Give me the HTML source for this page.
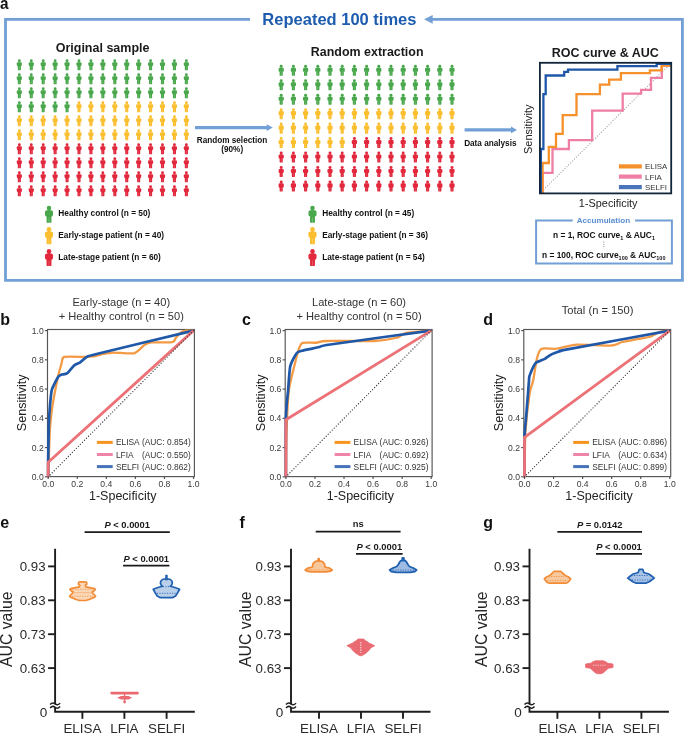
<!DOCTYPE html>
<html><head><meta charset="utf-8"><title>Figure</title>
<style>
html,body{margin:0;padding:0;background:#fff;}
body{width:685px;height:733px;overflow:hidden;}
svg{display:block;font-family:"Liberation Sans", sans-serif;will-change:transform;}
</style></head><body>
<svg width="685" height="733" viewBox="0 0 685 733">
<defs>
<g id="person">
<circle cx="0" cy="1.45" r="1.45"/>
<rect x="-0.8" y="2.4" width="1.6" height="0.8"/>
<rect x="-2.55" y="2.9" width="5.1" height="4.0" rx="1.15"/>
<rect x="-1.55" y="6.3" width="3.1" height="4.55" rx="0.45"/>
<rect x="-0.18" y="7.4" width="0.36" height="3.4" fill="#fff" opacity="0.35"/>
</g>
</defs>
<rect width="685" height="733" fill="#fff"/>
<text x="0" y="9" font-size="17" font-weight="700" fill="#111" transform="scale(0.9,1)">a</text>
<path d="M250,19.3 H5.5 V280.4 H682.4 V19.3 H432" fill="none" stroke="#729fd6" stroke-width="2.8"/>
<path d="M424,19.3 L432.7,14.9 L432.7,23.7 Z" fill="#729fd6"/>
<text x="339.4" y="24.5" font-size="16.5" font-weight="700" fill="#1d5cae" text-anchor="middle" >Repeated 100 times</text>
<text x="102.6" y="51.9" font-size="12.5" font-weight="700" fill="#1a1a1a" text-anchor="middle" >Original sample</text>
<text x="367.2" y="56.3" font-size="12.45" font-weight="700" fill="#1a1a1a" text-anchor="middle" >Random extraction</text>
<text x="605.3" y="57.2" font-size="12.5" font-weight="700" fill="#1a1a1a" text-anchor="middle" >ROC curve &amp; AUC</text>
<use href="#person" transform="translate(19.35,59.30) scale(1.0)" fill="#4aa84c"/>
<use href="#person" transform="translate(31.28,59.30) scale(1.0)" fill="#4aa84c"/>
<use href="#person" transform="translate(43.21,59.30) scale(1.0)" fill="#4aa84c"/>
<use href="#person" transform="translate(55.14,59.30) scale(1.0)" fill="#4aa84c"/>
<use href="#person" transform="translate(67.07,59.30) scale(1.0)" fill="#4aa84c"/>
<use href="#person" transform="translate(79.00,59.30) scale(1.0)" fill="#4aa84c"/>
<use href="#person" transform="translate(90.93,59.30) scale(1.0)" fill="#4aa84c"/>
<use href="#person" transform="translate(102.86,59.30) scale(1.0)" fill="#4aa84c"/>
<use href="#person" transform="translate(114.79,59.30) scale(1.0)" fill="#4aa84c"/>
<use href="#person" transform="translate(126.72,59.30) scale(1.0)" fill="#4aa84c"/>
<use href="#person" transform="translate(138.65,59.30) scale(1.0)" fill="#4aa84c"/>
<use href="#person" transform="translate(150.58,59.30) scale(1.0)" fill="#4aa84c"/>
<use href="#person" transform="translate(162.51,59.30) scale(1.0)" fill="#4aa84c"/>
<use href="#person" transform="translate(174.44,59.30) scale(1.0)" fill="#4aa84c"/>
<use href="#person" transform="translate(186.37,59.30) scale(1.0)" fill="#4aa84c"/>
<use href="#person" transform="translate(19.35,73.30) scale(1.0)" fill="#4aa84c"/>
<use href="#person" transform="translate(31.28,73.30) scale(1.0)" fill="#4aa84c"/>
<use href="#person" transform="translate(43.21,73.30) scale(1.0)" fill="#4aa84c"/>
<use href="#person" transform="translate(55.14,73.30) scale(1.0)" fill="#4aa84c"/>
<use href="#person" transform="translate(67.07,73.30) scale(1.0)" fill="#4aa84c"/>
<use href="#person" transform="translate(79.00,73.30) scale(1.0)" fill="#4aa84c"/>
<use href="#person" transform="translate(90.93,73.30) scale(1.0)" fill="#4aa84c"/>
<use href="#person" transform="translate(102.86,73.30) scale(1.0)" fill="#4aa84c"/>
<use href="#person" transform="translate(114.79,73.30) scale(1.0)" fill="#4aa84c"/>
<use href="#person" transform="translate(126.72,73.30) scale(1.0)" fill="#4aa84c"/>
<use href="#person" transform="translate(138.65,73.30) scale(1.0)" fill="#4aa84c"/>
<use href="#person" transform="translate(150.58,73.30) scale(1.0)" fill="#4aa84c"/>
<use href="#person" transform="translate(162.51,73.30) scale(1.0)" fill="#4aa84c"/>
<use href="#person" transform="translate(174.44,73.30) scale(1.0)" fill="#4aa84c"/>
<use href="#person" transform="translate(186.37,73.30) scale(1.0)" fill="#4aa84c"/>
<use href="#person" transform="translate(19.35,87.30) scale(1.0)" fill="#4aa84c"/>
<use href="#person" transform="translate(31.28,87.30) scale(1.0)" fill="#4aa84c"/>
<use href="#person" transform="translate(43.21,87.30) scale(1.0)" fill="#4aa84c"/>
<use href="#person" transform="translate(55.14,87.30) scale(1.0)" fill="#4aa84c"/>
<use href="#person" transform="translate(67.07,87.30) scale(1.0)" fill="#4aa84c"/>
<use href="#person" transform="translate(79.00,87.30) scale(1.0)" fill="#4aa84c"/>
<use href="#person" transform="translate(90.93,87.30) scale(1.0)" fill="#4aa84c"/>
<use href="#person" transform="translate(102.86,87.30) scale(1.0)" fill="#4aa84c"/>
<use href="#person" transform="translate(114.79,87.30) scale(1.0)" fill="#4aa84c"/>
<use href="#person" transform="translate(126.72,87.30) scale(1.0)" fill="#4aa84c"/>
<use href="#person" transform="translate(138.65,87.30) scale(1.0)" fill="#4aa84c"/>
<use href="#person" transform="translate(150.58,87.30) scale(1.0)" fill="#4aa84c"/>
<use href="#person" transform="translate(162.51,87.30) scale(1.0)" fill="#4aa84c"/>
<use href="#person" transform="translate(174.44,87.30) scale(1.0)" fill="#4aa84c"/>
<use href="#person" transform="translate(186.37,87.30) scale(1.0)" fill="#4aa84c"/>
<use href="#person" transform="translate(19.35,101.30) scale(1.0)" fill="#4aa84c"/>
<use href="#person" transform="translate(31.28,101.30) scale(1.0)" fill="#4aa84c"/>
<use href="#person" transform="translate(43.21,101.30) scale(1.0)" fill="#4aa84c"/>
<use href="#person" transform="translate(55.14,101.30) scale(1.0)" fill="#4aa84c"/>
<use href="#person" transform="translate(67.07,101.30) scale(1.0)" fill="#4aa84c"/>
<use href="#person" transform="translate(79.00,101.30) scale(1.0)" fill="#fbbe2e"/>
<use href="#person" transform="translate(90.93,101.30) scale(1.0)" fill="#fbbe2e"/>
<use href="#person" transform="translate(102.86,101.30) scale(1.0)" fill="#fbbe2e"/>
<use href="#person" transform="translate(114.79,101.30) scale(1.0)" fill="#fbbe2e"/>
<use href="#person" transform="translate(126.72,101.30) scale(1.0)" fill="#fbbe2e"/>
<use href="#person" transform="translate(138.65,101.30) scale(1.0)" fill="#fbbe2e"/>
<use href="#person" transform="translate(150.58,101.30) scale(1.0)" fill="#fbbe2e"/>
<use href="#person" transform="translate(162.51,101.30) scale(1.0)" fill="#fbbe2e"/>
<use href="#person" transform="translate(174.44,101.30) scale(1.0)" fill="#fbbe2e"/>
<use href="#person" transform="translate(186.37,101.30) scale(1.0)" fill="#fbbe2e"/>
<use href="#person" transform="translate(19.35,115.30) scale(1.0)" fill="#fbbe2e"/>
<use href="#person" transform="translate(31.28,115.30) scale(1.0)" fill="#fbbe2e"/>
<use href="#person" transform="translate(43.21,115.30) scale(1.0)" fill="#fbbe2e"/>
<use href="#person" transform="translate(55.14,115.30) scale(1.0)" fill="#fbbe2e"/>
<use href="#person" transform="translate(67.07,115.30) scale(1.0)" fill="#fbbe2e"/>
<use href="#person" transform="translate(79.00,115.30) scale(1.0)" fill="#fbbe2e"/>
<use href="#person" transform="translate(90.93,115.30) scale(1.0)" fill="#fbbe2e"/>
<use href="#person" transform="translate(102.86,115.30) scale(1.0)" fill="#fbbe2e"/>
<use href="#person" transform="translate(114.79,115.30) scale(1.0)" fill="#fbbe2e"/>
<use href="#person" transform="translate(126.72,115.30) scale(1.0)" fill="#fbbe2e"/>
<use href="#person" transform="translate(138.65,115.30) scale(1.0)" fill="#fbbe2e"/>
<use href="#person" transform="translate(150.58,115.30) scale(1.0)" fill="#fbbe2e"/>
<use href="#person" transform="translate(162.51,115.30) scale(1.0)" fill="#fbbe2e"/>
<use href="#person" transform="translate(174.44,115.30) scale(1.0)" fill="#fbbe2e"/>
<use href="#person" transform="translate(186.37,115.30) scale(1.0)" fill="#fbbe2e"/>
<use href="#person" transform="translate(19.35,129.30) scale(1.0)" fill="#fbbe2e"/>
<use href="#person" transform="translate(31.28,129.30) scale(1.0)" fill="#fbbe2e"/>
<use href="#person" transform="translate(43.21,129.30) scale(1.0)" fill="#fbbe2e"/>
<use href="#person" transform="translate(55.14,129.30) scale(1.0)" fill="#fbbe2e"/>
<use href="#person" transform="translate(67.07,129.30) scale(1.0)" fill="#fbbe2e"/>
<use href="#person" transform="translate(79.00,129.30) scale(1.0)" fill="#fbbe2e"/>
<use href="#person" transform="translate(90.93,129.30) scale(1.0)" fill="#fbbe2e"/>
<use href="#person" transform="translate(102.86,129.30) scale(1.0)" fill="#fbbe2e"/>
<use href="#person" transform="translate(114.79,129.30) scale(1.0)" fill="#fbbe2e"/>
<use href="#person" transform="translate(126.72,129.30) scale(1.0)" fill="#fbbe2e"/>
<use href="#person" transform="translate(138.65,129.30) scale(1.0)" fill="#fbbe2e"/>
<use href="#person" transform="translate(150.58,129.30) scale(1.0)" fill="#fbbe2e"/>
<use href="#person" transform="translate(162.51,129.30) scale(1.0)" fill="#fbbe2e"/>
<use href="#person" transform="translate(174.44,129.30) scale(1.0)" fill="#fbbe2e"/>
<use href="#person" transform="translate(186.37,129.30) scale(1.0)" fill="#fbbe2e"/>
<use href="#person" transform="translate(19.35,143.30) scale(1.0)" fill="#e2283c"/>
<use href="#person" transform="translate(31.28,143.30) scale(1.0)" fill="#e2283c"/>
<use href="#person" transform="translate(43.21,143.30) scale(1.0)" fill="#e2283c"/>
<use href="#person" transform="translate(55.14,143.30) scale(1.0)" fill="#e2283c"/>
<use href="#person" transform="translate(67.07,143.30) scale(1.0)" fill="#e2283c"/>
<use href="#person" transform="translate(79.00,143.30) scale(1.0)" fill="#e2283c"/>
<use href="#person" transform="translate(90.93,143.30) scale(1.0)" fill="#e2283c"/>
<use href="#person" transform="translate(102.86,143.30) scale(1.0)" fill="#e2283c"/>
<use href="#person" transform="translate(114.79,143.30) scale(1.0)" fill="#e2283c"/>
<use href="#person" transform="translate(126.72,143.30) scale(1.0)" fill="#e2283c"/>
<use href="#person" transform="translate(138.65,143.30) scale(1.0)" fill="#e2283c"/>
<use href="#person" transform="translate(150.58,143.30) scale(1.0)" fill="#e2283c"/>
<use href="#person" transform="translate(162.51,143.30) scale(1.0)" fill="#e2283c"/>
<use href="#person" transform="translate(174.44,143.30) scale(1.0)" fill="#e2283c"/>
<use href="#person" transform="translate(186.37,143.30) scale(1.0)" fill="#e2283c"/>
<use href="#person" transform="translate(19.35,157.30) scale(1.0)" fill="#e2283c"/>
<use href="#person" transform="translate(31.28,157.30) scale(1.0)" fill="#e2283c"/>
<use href="#person" transform="translate(43.21,157.30) scale(1.0)" fill="#e2283c"/>
<use href="#person" transform="translate(55.14,157.30) scale(1.0)" fill="#e2283c"/>
<use href="#person" transform="translate(67.07,157.30) scale(1.0)" fill="#e2283c"/>
<use href="#person" transform="translate(79.00,157.30) scale(1.0)" fill="#e2283c"/>
<use href="#person" transform="translate(90.93,157.30) scale(1.0)" fill="#e2283c"/>
<use href="#person" transform="translate(102.86,157.30) scale(1.0)" fill="#e2283c"/>
<use href="#person" transform="translate(114.79,157.30) scale(1.0)" fill="#e2283c"/>
<use href="#person" transform="translate(126.72,157.30) scale(1.0)" fill="#e2283c"/>
<use href="#person" transform="translate(138.65,157.30) scale(1.0)" fill="#e2283c"/>
<use href="#person" transform="translate(150.58,157.30) scale(1.0)" fill="#e2283c"/>
<use href="#person" transform="translate(162.51,157.30) scale(1.0)" fill="#e2283c"/>
<use href="#person" transform="translate(174.44,157.30) scale(1.0)" fill="#e2283c"/>
<use href="#person" transform="translate(186.37,157.30) scale(1.0)" fill="#e2283c"/>
<use href="#person" transform="translate(19.35,171.30) scale(1.0)" fill="#e2283c"/>
<use href="#person" transform="translate(31.28,171.30) scale(1.0)" fill="#e2283c"/>
<use href="#person" transform="translate(43.21,171.30) scale(1.0)" fill="#e2283c"/>
<use href="#person" transform="translate(55.14,171.30) scale(1.0)" fill="#e2283c"/>
<use href="#person" transform="translate(67.07,171.30) scale(1.0)" fill="#e2283c"/>
<use href="#person" transform="translate(79.00,171.30) scale(1.0)" fill="#e2283c"/>
<use href="#person" transform="translate(90.93,171.30) scale(1.0)" fill="#e2283c"/>
<use href="#person" transform="translate(102.86,171.30) scale(1.0)" fill="#e2283c"/>
<use href="#person" transform="translate(114.79,171.30) scale(1.0)" fill="#e2283c"/>
<use href="#person" transform="translate(126.72,171.30) scale(1.0)" fill="#e2283c"/>
<use href="#person" transform="translate(138.65,171.30) scale(1.0)" fill="#e2283c"/>
<use href="#person" transform="translate(150.58,171.30) scale(1.0)" fill="#e2283c"/>
<use href="#person" transform="translate(162.51,171.30) scale(1.0)" fill="#e2283c"/>
<use href="#person" transform="translate(174.44,171.30) scale(1.0)" fill="#e2283c"/>
<use href="#person" transform="translate(186.37,171.30) scale(1.0)" fill="#e2283c"/>
<use href="#person" transform="translate(19.35,185.30) scale(1.0)" fill="#e2283c"/>
<use href="#person" transform="translate(31.28,185.30) scale(1.0)" fill="#e2283c"/>
<use href="#person" transform="translate(43.21,185.30) scale(1.0)" fill="#e2283c"/>
<use href="#person" transform="translate(55.14,185.30) scale(1.0)" fill="#e2283c"/>
<use href="#person" transform="translate(67.07,185.30) scale(1.0)" fill="#e2283c"/>
<use href="#person" transform="translate(79.00,185.30) scale(1.0)" fill="#e2283c"/>
<use href="#person" transform="translate(90.93,185.30) scale(1.0)" fill="#e2283c"/>
<use href="#person" transform="translate(102.86,185.30) scale(1.0)" fill="#e2283c"/>
<use href="#person" transform="translate(114.79,185.30) scale(1.0)" fill="#e2283c"/>
<use href="#person" transform="translate(126.72,185.30) scale(1.0)" fill="#e2283c"/>
<use href="#person" transform="translate(138.65,185.30) scale(1.0)" fill="#e2283c"/>
<use href="#person" transform="translate(150.58,185.30) scale(1.0)" fill="#e2283c"/>
<use href="#person" transform="translate(162.51,185.30) scale(1.0)" fill="#e2283c"/>
<use href="#person" transform="translate(174.44,185.30) scale(1.0)" fill="#e2283c"/>
<use href="#person" transform="translate(186.37,185.30) scale(1.0)" fill="#e2283c"/>
<use href="#person" transform="translate(281.20,64.80) scale(1.02)" fill="#4aa84c"/>
<use href="#person" transform="translate(293.40,64.80) scale(1.02)" fill="#4aa84c"/>
<use href="#person" transform="translate(305.60,64.80) scale(1.02)" fill="#4aa84c"/>
<use href="#person" transform="translate(317.80,64.80) scale(1.02)" fill="#4aa84c"/>
<use href="#person" transform="translate(330.00,64.80) scale(1.02)" fill="#4aa84c"/>
<use href="#person" transform="translate(342.20,64.80) scale(1.02)" fill="#4aa84c"/>
<use href="#person" transform="translate(354.40,64.80) scale(1.02)" fill="#4aa84c"/>
<use href="#person" transform="translate(366.60,64.80) scale(1.02)" fill="#4aa84c"/>
<use href="#person" transform="translate(378.80,64.80) scale(1.02)" fill="#4aa84c"/>
<use href="#person" transform="translate(391.00,64.80) scale(1.02)" fill="#4aa84c"/>
<use href="#person" transform="translate(403.20,64.80) scale(1.02)" fill="#4aa84c"/>
<use href="#person" transform="translate(415.40,64.80) scale(1.02)" fill="#4aa84c"/>
<use href="#person" transform="translate(427.60,64.80) scale(1.02)" fill="#4aa84c"/>
<use href="#person" transform="translate(439.80,64.80) scale(1.02)" fill="#4aa84c"/>
<use href="#person" transform="translate(452.00,64.80) scale(1.02)" fill="#4aa84c"/>
<use href="#person" transform="translate(281.20,79.25) scale(1.02)" fill="#4aa84c"/>
<use href="#person" transform="translate(293.40,79.25) scale(1.02)" fill="#4aa84c"/>
<use href="#person" transform="translate(305.60,79.25) scale(1.02)" fill="#4aa84c"/>
<use href="#person" transform="translate(317.80,79.25) scale(1.02)" fill="#4aa84c"/>
<use href="#person" transform="translate(330.00,79.25) scale(1.02)" fill="#4aa84c"/>
<use href="#person" transform="translate(342.20,79.25) scale(1.02)" fill="#4aa84c"/>
<use href="#person" transform="translate(354.40,79.25) scale(1.02)" fill="#4aa84c"/>
<use href="#person" transform="translate(366.60,79.25) scale(1.02)" fill="#4aa84c"/>
<use href="#person" transform="translate(378.80,79.25) scale(1.02)" fill="#4aa84c"/>
<use href="#person" transform="translate(391.00,79.25) scale(1.02)" fill="#4aa84c"/>
<use href="#person" transform="translate(403.20,79.25) scale(1.02)" fill="#4aa84c"/>
<use href="#person" transform="translate(415.40,79.25) scale(1.02)" fill="#4aa84c"/>
<use href="#person" transform="translate(427.60,79.25) scale(1.02)" fill="#4aa84c"/>
<use href="#person" transform="translate(439.80,79.25) scale(1.02)" fill="#4aa84c"/>
<use href="#person" transform="translate(452.00,79.25) scale(1.02)" fill="#4aa84c"/>
<use href="#person" transform="translate(281.20,93.70) scale(1.02)" fill="#4aa84c"/>
<use href="#person" transform="translate(293.40,93.70) scale(1.02)" fill="#4aa84c"/>
<use href="#person" transform="translate(305.60,93.70) scale(1.02)" fill="#4aa84c"/>
<use href="#person" transform="translate(317.80,93.70) scale(1.02)" fill="#4aa84c"/>
<use href="#person" transform="translate(330.00,93.70) scale(1.02)" fill="#4aa84c"/>
<use href="#person" transform="translate(342.20,93.70) scale(1.02)" fill="#4aa84c"/>
<use href="#person" transform="translate(354.40,93.70) scale(1.02)" fill="#4aa84c"/>
<use href="#person" transform="translate(366.60,93.70) scale(1.02)" fill="#4aa84c"/>
<use href="#person" transform="translate(378.80,93.70) scale(1.02)" fill="#4aa84c"/>
<use href="#person" transform="translate(391.00,93.70) scale(1.02)" fill="#4aa84c"/>
<use href="#person" transform="translate(403.20,93.70) scale(1.02)" fill="#4aa84c"/>
<use href="#person" transform="translate(415.40,93.70) scale(1.02)" fill="#4aa84c"/>
<use href="#person" transform="translate(427.60,93.70) scale(1.02)" fill="#4aa84c"/>
<use href="#person" transform="translate(439.80,93.70) scale(1.02)" fill="#4aa84c"/>
<use href="#person" transform="translate(452.00,93.70) scale(1.02)" fill="#4aa84c"/>
<use href="#person" transform="translate(281.20,108.15) scale(1.02)" fill="#fbbe2e"/>
<use href="#person" transform="translate(293.40,108.15) scale(1.02)" fill="#fbbe2e"/>
<use href="#person" transform="translate(305.60,108.15) scale(1.02)" fill="#fbbe2e"/>
<use href="#person" transform="translate(317.80,108.15) scale(1.02)" fill="#fbbe2e"/>
<use href="#person" transform="translate(330.00,108.15) scale(1.02)" fill="#fbbe2e"/>
<use href="#person" transform="translate(342.20,108.15) scale(1.02)" fill="#fbbe2e"/>
<use href="#person" transform="translate(354.40,108.15) scale(1.02)" fill="#fbbe2e"/>
<use href="#person" transform="translate(366.60,108.15) scale(1.02)" fill="#fbbe2e"/>
<use href="#person" transform="translate(378.80,108.15) scale(1.02)" fill="#fbbe2e"/>
<use href="#person" transform="translate(391.00,108.15) scale(1.02)" fill="#fbbe2e"/>
<use href="#person" transform="translate(403.20,108.15) scale(1.02)" fill="#fbbe2e"/>
<use href="#person" transform="translate(415.40,108.15) scale(1.02)" fill="#fbbe2e"/>
<use href="#person" transform="translate(427.60,108.15) scale(1.02)" fill="#fbbe2e"/>
<use href="#person" transform="translate(439.80,108.15) scale(1.02)" fill="#fbbe2e"/>
<use href="#person" transform="translate(452.00,108.15) scale(1.02)" fill="#fbbe2e"/>
<use href="#person" transform="translate(281.20,122.60) scale(1.02)" fill="#fbbe2e"/>
<use href="#person" transform="translate(293.40,122.60) scale(1.02)" fill="#fbbe2e"/>
<use href="#person" transform="translate(305.60,122.60) scale(1.02)" fill="#fbbe2e"/>
<use href="#person" transform="translate(317.80,122.60) scale(1.02)" fill="#fbbe2e"/>
<use href="#person" transform="translate(330.00,122.60) scale(1.02)" fill="#fbbe2e"/>
<use href="#person" transform="translate(342.20,122.60) scale(1.02)" fill="#fbbe2e"/>
<use href="#person" transform="translate(354.40,122.60) scale(1.02)" fill="#fbbe2e"/>
<use href="#person" transform="translate(366.60,122.60) scale(1.02)" fill="#fbbe2e"/>
<use href="#person" transform="translate(378.80,122.60) scale(1.02)" fill="#fbbe2e"/>
<use href="#person" transform="translate(391.00,122.60) scale(1.02)" fill="#fbbe2e"/>
<use href="#person" transform="translate(403.20,122.60) scale(1.02)" fill="#fbbe2e"/>
<use href="#person" transform="translate(415.40,122.60) scale(1.02)" fill="#fbbe2e"/>
<use href="#person" transform="translate(427.60,122.60) scale(1.02)" fill="#fbbe2e"/>
<use href="#person" transform="translate(439.80,122.60) scale(1.02)" fill="#fbbe2e"/>
<use href="#person" transform="translate(452.00,122.60) scale(1.02)" fill="#fbbe2e"/>
<use href="#person" transform="translate(281.20,137.05) scale(1.02)" fill="#fbbe2e"/>
<use href="#person" transform="translate(293.40,137.05) scale(1.02)" fill="#fbbe2e"/>
<use href="#person" transform="translate(305.60,137.05) scale(1.02)" fill="#fbbe2e"/>
<use href="#person" transform="translate(317.80,137.05) scale(1.02)" fill="#fbbe2e"/>
<use href="#person" transform="translate(330.00,137.05) scale(1.02)" fill="#fbbe2e"/>
<use href="#person" transform="translate(342.20,137.05) scale(1.02)" fill="#fbbe2e"/>
<use href="#person" transform="translate(354.40,137.05) scale(1.02)" fill="#e2283c"/>
<use href="#person" transform="translate(366.60,137.05) scale(1.02)" fill="#e2283c"/>
<use href="#person" transform="translate(378.80,137.05) scale(1.02)" fill="#e2283c"/>
<use href="#person" transform="translate(391.00,137.05) scale(1.02)" fill="#e2283c"/>
<use href="#person" transform="translate(403.20,137.05) scale(1.02)" fill="#e2283c"/>
<use href="#person" transform="translate(415.40,137.05) scale(1.02)" fill="#e2283c"/>
<use href="#person" transform="translate(427.60,137.05) scale(1.02)" fill="#e2283c"/>
<use href="#person" transform="translate(439.80,137.05) scale(1.02)" fill="#e2283c"/>
<use href="#person" transform="translate(452.00,137.05) scale(1.02)" fill="#e2283c"/>
<use href="#person" transform="translate(281.20,151.50) scale(1.02)" fill="#e2283c"/>
<use href="#person" transform="translate(293.40,151.50) scale(1.02)" fill="#e2283c"/>
<use href="#person" transform="translate(305.60,151.50) scale(1.02)" fill="#e2283c"/>
<use href="#person" transform="translate(317.80,151.50) scale(1.02)" fill="#e2283c"/>
<use href="#person" transform="translate(330.00,151.50) scale(1.02)" fill="#e2283c"/>
<use href="#person" transform="translate(342.20,151.50) scale(1.02)" fill="#e2283c"/>
<use href="#person" transform="translate(354.40,151.50) scale(1.02)" fill="#e2283c"/>
<use href="#person" transform="translate(366.60,151.50) scale(1.02)" fill="#e2283c"/>
<use href="#person" transform="translate(378.80,151.50) scale(1.02)" fill="#e2283c"/>
<use href="#person" transform="translate(391.00,151.50) scale(1.02)" fill="#e2283c"/>
<use href="#person" transform="translate(403.20,151.50) scale(1.02)" fill="#e2283c"/>
<use href="#person" transform="translate(415.40,151.50) scale(1.02)" fill="#e2283c"/>
<use href="#person" transform="translate(427.60,151.50) scale(1.02)" fill="#e2283c"/>
<use href="#person" transform="translate(439.80,151.50) scale(1.02)" fill="#e2283c"/>
<use href="#person" transform="translate(452.00,151.50) scale(1.02)" fill="#e2283c"/>
<use href="#person" transform="translate(281.20,165.95) scale(1.02)" fill="#e2283c"/>
<use href="#person" transform="translate(293.40,165.95) scale(1.02)" fill="#e2283c"/>
<use href="#person" transform="translate(305.60,165.95) scale(1.02)" fill="#e2283c"/>
<use href="#person" transform="translate(317.80,165.95) scale(1.02)" fill="#e2283c"/>
<use href="#person" transform="translate(330.00,165.95) scale(1.02)" fill="#e2283c"/>
<use href="#person" transform="translate(342.20,165.95) scale(1.02)" fill="#e2283c"/>
<use href="#person" transform="translate(354.40,165.95) scale(1.02)" fill="#e2283c"/>
<use href="#person" transform="translate(366.60,165.95) scale(1.02)" fill="#e2283c"/>
<use href="#person" transform="translate(378.80,165.95) scale(1.02)" fill="#e2283c"/>
<use href="#person" transform="translate(391.00,165.95) scale(1.02)" fill="#e2283c"/>
<use href="#person" transform="translate(403.20,165.95) scale(1.02)" fill="#e2283c"/>
<use href="#person" transform="translate(415.40,165.95) scale(1.02)" fill="#e2283c"/>
<use href="#person" transform="translate(427.60,165.95) scale(1.02)" fill="#e2283c"/>
<use href="#person" transform="translate(439.80,165.95) scale(1.02)" fill="#e2283c"/>
<use href="#person" transform="translate(452.00,165.95) scale(1.02)" fill="#e2283c"/>
<use href="#person" transform="translate(281.20,180.40) scale(1.02)" fill="#e2283c"/>
<use href="#person" transform="translate(293.40,180.40) scale(1.02)" fill="#e2283c"/>
<use href="#person" transform="translate(305.60,180.40) scale(1.02)" fill="#e2283c"/>
<use href="#person" transform="translate(317.80,180.40) scale(1.02)" fill="#e2283c"/>
<use href="#person" transform="translate(330.00,180.40) scale(1.02)" fill="#e2283c"/>
<use href="#person" transform="translate(342.20,180.40) scale(1.02)" fill="#e2283c"/>
<use href="#person" transform="translate(354.40,180.40) scale(1.02)" fill="#e2283c"/>
<use href="#person" transform="translate(366.60,180.40) scale(1.02)" fill="#e2283c"/>
<use href="#person" transform="translate(378.80,180.40) scale(1.02)" fill="#e2283c"/>
<use href="#person" transform="translate(391.00,180.40) scale(1.02)" fill="#e2283c"/>
<use href="#person" transform="translate(403.20,180.40) scale(1.02)" fill="#e2283c"/>
<use href="#person" transform="translate(415.40,180.40) scale(1.02)" fill="#e2283c"/>
<use href="#person" transform="translate(427.60,180.40) scale(1.02)" fill="#e2283c"/>
<use href="#person" transform="translate(439.80,180.40) scale(1.02)" fill="#e2283c"/>
<use href="#person" transform="translate(452.00,180.40) scale(1.02)" fill="#e2283c"/>
<use href="#person" transform="translate(49.00,205.70) scale(1.58)" fill="#4aa84c"/>
<text x="58.3" y="215.6" font-size="8.3" font-weight="700" fill="#111" text-anchor="start" >Healthy control (n = 50)</text>
<use href="#person" transform="translate(49.00,227.00) scale(1.58)" fill="#fbbe2e"/>
<text x="58.3" y="238.0" font-size="8.3" font-weight="700" fill="#111" text-anchor="start" >Early-stage patient (n = 40)</text>
<use href="#person" transform="translate(49.00,248.90) scale(1.58)" fill="#e2283c"/>
<text x="58.3" y="260.0" font-size="8.3" font-weight="700" fill="#111" text-anchor="start" >Late-stage patient (n = 60)</text>
<use href="#person" transform="translate(312.50,205.70) scale(1.58)" fill="#4aa84c"/>
<text x="322.2" y="215.6" font-size="8.3" font-weight="700" fill="#111" text-anchor="start" >Healthy control (n = 45)</text>
<use href="#person" transform="translate(312.50,227.00) scale(1.58)" fill="#fbbe2e"/>
<text x="322.2" y="238.0" font-size="8.3" font-weight="700" fill="#111" text-anchor="start" >Early-stage patient (n = 36)</text>
<use href="#person" transform="translate(312.50,248.90) scale(1.58)" fill="#e2283c"/>
<text x="322.2" y="260.0" font-size="8.3" font-weight="700" fill="#111" text-anchor="start" >Late-stage patient (n = 54)</text>
<path d="M195,127.6 H267.5" stroke="#729fd6" stroke-width="3.2"/>
<path d="M272.8,127.6 L266.6,124.3 L266.6,130.9 Z" fill="#729fd6"/>
<text x="232" y="142.7" font-size="8.2" font-weight="700" fill="#111" text-anchor="middle" >Random selection</text>
<text x="232.2" y="152.0" font-size="8.2" font-weight="700" fill="#111" text-anchor="middle" >(90%)</text>
<path d="M464.6,129.9 H512" stroke="#729fd6" stroke-width="3.2"/>
<path d="M517,129.9 L511,126.6 L511,133.2 Z" fill="#729fd6"/>
<text x="490.3" y="145.6" font-size="8.2" font-weight="700" fill="#111" text-anchor="middle" >Data analysis</text>
<text transform="translate(532.3,129.2) rotate(-90)" font-size="11" fill="#222" text-anchor="middle">Sensitivity</text>
<text x="608.2" y="207.2" font-size="10.9" font-weight="400" fill="#222" text-anchor="middle" >1-Specificity</text>
<path d="M539.9,193.4 L671.2,62.8" stroke="#aaaaaa" stroke-width="1.3" stroke-linecap="round" stroke-dasharray="0.01,2.7"/>
<path d="M542.6,193.4 V172.9 H552.5 V149 H568.9 V140.2 H592.2 V110.6 H622.7 V93.6 H641.1 V89.8 H651 V77.9 H661.8 V65.6 H670.9" fill="none" stroke="#ee7fa3" stroke-width="2.3"/>
<path d="M542.6,193.4 V163 H548.8 V146.8 H556 V133.8 H562.7 V115.2 H576.5 V94.1 H599.9 V84.6 H609.2 V79.6 H620.9 V73.2 H649.9 V70.3 H661.6 V65.6 H670.9" fill="none" stroke="#f5902a" stroke-width="2.3"/>
<path d="M540.9,193.4 V149 H543.4 V94.2 H545.7 V75.5 H564.2 V71.8 H568 V69.7 H617.4 V66.2 H656.7 V63.8 H670.9" fill="none" stroke="#1f57a8" stroke-width="2.3"/>
<rect x="539.9" y="62.8" width="131.30000000000007" height="130.60000000000002" fill="none" stroke="#12263a" stroke-width="1.8"/>
<path d="M618.9,166.4 H641.8" stroke="#f5902a" stroke-width="4.2"/>
<text x="645" y="169.3" font-size="7.9" font-weight="400" fill="#333" text-anchor="start" >ELISA</text>
<path d="M618.9,176.6 H641.8" stroke="#ee7fa3" stroke-width="4.2"/>
<text x="645" y="179.5" font-size="7.9" font-weight="400" fill="#333" text-anchor="start" >LFIA</text>
<path d="M618.9,187.1 H641.8" stroke="#4a74ba" stroke-width="4.2"/>
<text x="645" y="190.0" font-size="7.9" font-weight="400" fill="#333" text-anchor="start" >SELFI</text>
<path d="M572.7,220.4 H536.1 V263.6 H671.9 V220.4 H635.1" fill="none" stroke="#729fd6" stroke-width="2"/>
<text x="603.4" y="222.7" font-size="8.1" font-weight="700" fill="#5b8fd2" text-anchor="middle" >Accumulation</text>
<text x="553" y="238" font-size="8.4" font-weight="700" fill="#111">n = 1, ROC curve<tspan font-size="5.5" dy="1.8">1</tspan><tspan dy="-1.8"> &amp; AUC</tspan><tspan font-size="5.5" dy="1.8">1</tspan></text>
<path d="M603.8,241.6 V248" stroke="#8a8a8a" stroke-width="1" stroke-dasharray="1,1.2"/>
<text x="542" y="257.7" font-size="8.4" font-weight="700" fill="#111">n = 100, ROC curve<tspan font-size="5.5" dy="1.8">100</tspan><tspan dy="-1.8"> &amp; AUC</tspan><tspan font-size="5.5" dy="1.8">100</tspan></text>
<text x="0.3" y="325" font-size="16" font-weight="700" fill="#111" text-anchor="start" >b</text>
<text x="121.3" y="306.1" font-size="11.1" font-weight="400" fill="#333" text-anchor="middle" >Early-stage (n = 40)</text>
<text x="121.3" y="320.0" font-size="11.1" font-weight="400" fill="#333" text-anchor="middle" >+ Healthy control (n = 50)</text>
<path d="M44.90,476.80 H47.50" stroke="#545454" stroke-width="1.2"/>
<path d="M48.20,476.6 V479.0" stroke="#545454" stroke-width="1.2"/>
<text x="43.70" y="479.90" font-size="8.6" font-weight="400" fill="#3a3a3a" text-anchor="end" >0.0</text>
<text x="48.20" y="487.1" font-size="8.6" font-weight="400" fill="#3a3a3a" text-anchor="middle" >0.0</text>
<path d="M44.90,447.56 H47.50" stroke="#545454" stroke-width="1.2"/>
<path d="M77.26,476.6 V479.0" stroke="#545454" stroke-width="1.2"/>
<text x="43.70" y="450.66" font-size="8.6" font-weight="400" fill="#3a3a3a" text-anchor="end" >0.2</text>
<text x="77.26" y="487.1" font-size="8.6" font-weight="400" fill="#3a3a3a" text-anchor="middle" >0.2</text>
<path d="M44.90,418.32 H47.50" stroke="#545454" stroke-width="1.2"/>
<path d="M106.32,476.6 V479.0" stroke="#545454" stroke-width="1.2"/>
<text x="43.70" y="421.42" font-size="8.6" font-weight="400" fill="#3a3a3a" text-anchor="end" >0.4</text>
<text x="106.32" y="487.1" font-size="8.6" font-weight="400" fill="#3a3a3a" text-anchor="middle" >0.4</text>
<path d="M44.90,389.08 H47.50" stroke="#545454" stroke-width="1.2"/>
<path d="M135.38,476.6 V479.0" stroke="#545454" stroke-width="1.2"/>
<text x="43.70" y="392.18" font-size="8.6" font-weight="400" fill="#3a3a3a" text-anchor="end" >0.6</text>
<text x="135.38" y="487.1" font-size="8.6" font-weight="400" fill="#3a3a3a" text-anchor="middle" >0.6</text>
<path d="M44.90,359.84 H47.50" stroke="#545454" stroke-width="1.2"/>
<path d="M164.44,476.6 V479.0" stroke="#545454" stroke-width="1.2"/>
<text x="43.70" y="362.94" font-size="8.6" font-weight="400" fill="#3a3a3a" text-anchor="end" >0.8</text>
<text x="164.44" y="487.1" font-size="8.6" font-weight="400" fill="#3a3a3a" text-anchor="middle" >0.8</text>
<path d="M44.90,330.60 H47.50" stroke="#545454" stroke-width="1.2"/>
<path d="M193.50,476.6 V479.0" stroke="#545454" stroke-width="1.2"/>
<text x="43.70" y="333.70" font-size="8.6" font-weight="400" fill="#3a3a3a" text-anchor="end" >1.0</text>
<text x="193.50" y="487.1" font-size="8.6" font-weight="400" fill="#3a3a3a" text-anchor="middle" >1.0</text>
<text transform="translate(25.90,402.80) rotate(-90)" font-size="12.6" fill="#222" text-anchor="middle">Sensitivity</text>
<text x="122.7" y="500.0" font-size="12.5" font-weight="400" fill="#222" text-anchor="middle" >1-Specificity</text>
<rect x="47.50" y="329.5" width="146.90" height="147.10" fill="none" stroke="#545454" stroke-width="1.15"/>
<path d="M48.20,476.80 C48.26,475.05 48.61,464.08 48.78,459.26 C48.96,454.43 49.58,433.86 49.94,428.55 C50.31,423.25 51.60,411.40 52.41,406.19 C53.23,400.97 57.17,380.63 58.08,376.36 C59.00,372.09 60.96,365.44 61.57,363.50 C62.18,361.55 61.74,357.57 64.18,356.92 C66.62,356.26 82.85,357.00 85.98,356.92 C89.10,356.83 93.68,356.33 95.42,356.04 C97.17,355.75 101.60,354.34 103.41,353.99 C105.23,353.64 110.50,352.60 113.59,352.53 C116.67,352.46 131.11,354.04 134.22,353.26 C137.33,352.49 142.94,345.86 144.68,344.78 C146.42,343.70 148.88,342.71 151.65,342.44 C154.43,342.18 170.00,342.62 172.43,342.15 C174.86,341.68 174.99,338.79 175.92,337.76 C176.85,336.74 180.70,332.63 181.73,331.92 C182.76,331.20 185.06,330.73 186.24,330.60 C187.41,330.47 192.77,330.60 193.50,330.60" fill="none" stroke="#f39a45" stroke-width="2.3" stroke-linejoin="round"/>
<path d="M48.20,476.80 C48.20,475.34 48.14,467.30 48.20,462.18 C48.26,457.06 48.61,431.23 48.78,425.63 C48.96,420.03 49.64,409.77 49.94,406.19 C50.25,402.60 51.02,392.74 51.83,389.81 C52.65,386.89 57.11,378.47 58.08,376.95 C59.05,375.42 60.68,374.96 61.57,374.61 C62.45,374.26 65.67,374.37 66.94,373.44 C68.22,372.50 73.03,366.36 74.35,365.25 C75.68,364.14 78.89,363.17 80.17,362.33 C81.44,361.48 85.50,357.60 87.14,356.77 C88.78,355.94 85.95,356.61 96.58,353.99 C107.22,351.38 183.81,332.94 193.50,330.60" fill="none" stroke="#1f58a8" stroke-width="2.7" stroke-linejoin="round"/>
<path d="M48.2,476.8 V462.18 L193.5,330.6" fill="none" stroke="#ec7277" stroke-width="2.8" stroke-linejoin="round"/>
<path d="M48.2,476.8 L193.5,330.6" stroke="#383838" stroke-width="1.25" stroke-linecap="round" stroke-dasharray="0.01,2.85"/>
<path d="M96.90,442.40 H112.70" stroke="#f7931f" stroke-width="3"/>
<text x="115.90" y="445.40" font-size="8.4" font-weight="400" fill="#333" text-anchor="start" >ELISA</text>
<text x="141.90" y="445.40" font-size="8.4" font-weight="400" fill="#333" text-anchor="start" >(AUC: 0.854)</text>
<path d="M96.90,454.50 H112.70" stroke="#ef86a7" stroke-width="3"/>
<text x="115.90" y="457.50" font-size="8.4" font-weight="400" fill="#333" text-anchor="start" >LFIA</text>
<text x="141.90" y="457.50" font-size="8.4" font-weight="400" fill="#333" text-anchor="start" >(AUC: 0.550)</text>
<path d="M96.90,466.60 H112.70" stroke="#4672b9" stroke-width="3"/>
<text x="115.90" y="469.60" font-size="8.4" font-weight="400" fill="#333" text-anchor="start" >SELFI</text>
<text x="141.90" y="469.60" font-size="8.4" font-weight="400" fill="#333" text-anchor="start" >(AUC: 0.862)</text>
<text x="242" y="325" font-size="16" font-weight="700" fill="#111" text-anchor="start" >c</text>
<text x="359.0" y="306.1" font-size="11.1" font-weight="400" fill="#333" text-anchor="middle" >Late-stage (n = 60)</text>
<text x="359.0" y="320.0" font-size="11.1" font-weight="400" fill="#333" text-anchor="middle" >+ Healthy control (n = 50)</text>
<path d="M282.60,476.80 H285.20" stroke="#545454" stroke-width="1.2"/>
<path d="M285.90,476.6 V479.0" stroke="#545454" stroke-width="1.2"/>
<text x="281.40" y="479.90" font-size="8.6" font-weight="400" fill="#3a3a3a" text-anchor="end" >0.0</text>
<text x="285.90" y="487.1" font-size="8.6" font-weight="400" fill="#3a3a3a" text-anchor="middle" >0.0</text>
<path d="M282.60,447.56 H285.20" stroke="#545454" stroke-width="1.2"/>
<path d="M314.96,476.6 V479.0" stroke="#545454" stroke-width="1.2"/>
<text x="281.40" y="450.66" font-size="8.6" font-weight="400" fill="#3a3a3a" text-anchor="end" >0.2</text>
<text x="314.96" y="487.1" font-size="8.6" font-weight="400" fill="#3a3a3a" text-anchor="middle" >0.2</text>
<path d="M282.60,418.32 H285.20" stroke="#545454" stroke-width="1.2"/>
<path d="M344.02,476.6 V479.0" stroke="#545454" stroke-width="1.2"/>
<text x="281.40" y="421.42" font-size="8.6" font-weight="400" fill="#3a3a3a" text-anchor="end" >0.4</text>
<text x="344.02" y="487.1" font-size="8.6" font-weight="400" fill="#3a3a3a" text-anchor="middle" >0.4</text>
<path d="M282.60,389.08 H285.20" stroke="#545454" stroke-width="1.2"/>
<path d="M373.08,476.6 V479.0" stroke="#545454" stroke-width="1.2"/>
<text x="281.40" y="392.18" font-size="8.6" font-weight="400" fill="#3a3a3a" text-anchor="end" >0.6</text>
<text x="373.08" y="487.1" font-size="8.6" font-weight="400" fill="#3a3a3a" text-anchor="middle" >0.6</text>
<path d="M282.60,359.84 H285.20" stroke="#545454" stroke-width="1.2"/>
<path d="M402.14,476.6 V479.0" stroke="#545454" stroke-width="1.2"/>
<text x="281.40" y="362.94" font-size="8.6" font-weight="400" fill="#3a3a3a" text-anchor="end" >0.8</text>
<text x="402.14" y="487.1" font-size="8.6" font-weight="400" fill="#3a3a3a" text-anchor="middle" >0.8</text>
<path d="M282.60,330.60 H285.20" stroke="#545454" stroke-width="1.2"/>
<path d="M431.20,476.6 V479.0" stroke="#545454" stroke-width="1.2"/>
<text x="281.40" y="333.70" font-size="8.6" font-weight="400" fill="#3a3a3a" text-anchor="end" >1.0</text>
<text x="431.20" y="487.1" font-size="8.6" font-weight="400" fill="#3a3a3a" text-anchor="middle" >1.0</text>
<text transform="translate(264.90,402.80) rotate(-90)" font-size="12.6" fill="#222" text-anchor="middle">Sensitivity</text>
<text x="360.4" y="500.0" font-size="12.5" font-weight="400" fill="#222" text-anchor="middle" >1-Specificity</text>
<rect x="285.20" y="329.5" width="146.90" height="147.10" fill="none" stroke="#545454" stroke-width="1.15"/>
<path d="M285.90,476.80 C285.96,472.41 286.19,441.57 286.48,432.94 C286.77,424.31 287.99,397.37 288.81,390.54 C289.62,383.71 293.60,368.86 294.62,364.66 C295.64,360.47 298.18,350.76 298.98,348.58 C299.78,346.40 300.87,343.47 302.61,342.88 C304.35,342.30 314.06,342.92 316.41,342.73 C318.77,342.54 320.38,341.16 326.15,340.98 C331.92,340.80 367.05,341.30 374.10,340.98 C381.14,340.66 393.42,338.57 396.62,337.76 C399.82,336.96 402.60,333.66 406.06,332.94 C409.52,332.22 428.69,330.83 431.20,330.60" fill="none" stroke="#f39a45" stroke-width="2.3" stroke-linejoin="round"/>
<path d="M285.90,476.80 C285.90,471.10 285.81,427.09 285.90,419.78 C285.99,412.47 286.55,406.62 286.77,403.70 C286.99,400.78 287.73,394.30 288.08,390.54 C288.43,386.78 289.39,369.88 290.26,366.13 C291.13,362.37 295.64,354.50 296.80,352.97 C297.96,351.43 300.36,351.21 301.88,350.78 C303.41,350.34 310.31,348.96 312.05,348.58 C313.80,348.20 317.50,347.38 319.32,346.97 C321.14,346.57 319.03,346.13 330.22,344.49 C341.40,342.85 421.10,331.99 431.20,330.60" fill="none" stroke="#1f58a8" stroke-width="2.7" stroke-linejoin="round"/>
<path d="M285.9,476.8 V419.78 L431.2,330.6" fill="none" stroke="#ec7277" stroke-width="2.8" stroke-linejoin="round"/>
<path d="M285.9,476.8 L431.2,330.6" stroke="#383838" stroke-width="1.25" stroke-linecap="round" stroke-dasharray="0.01,2.85"/>
<path d="M334.60,442.40 H350.40" stroke="#f7931f" stroke-width="3"/>
<text x="353.60" y="445.40" font-size="8.4" font-weight="400" fill="#333" text-anchor="start" >ELISA</text>
<text x="379.60" y="445.40" font-size="8.4" font-weight="400" fill="#333" text-anchor="start" >(AUC: 0.926)</text>
<path d="M334.60,454.50 H350.40" stroke="#ef86a7" stroke-width="3"/>
<text x="353.60" y="457.50" font-size="8.4" font-weight="400" fill="#333" text-anchor="start" >LFIA</text>
<text x="379.60" y="457.50" font-size="8.4" font-weight="400" fill="#333" text-anchor="start" >(AUC: 0.692)</text>
<path d="M334.60,466.60 H350.40" stroke="#4672b9" stroke-width="3"/>
<text x="353.60" y="469.60" font-size="8.4" font-weight="400" fill="#333" text-anchor="start" >SELFI</text>
<text x="379.60" y="469.60" font-size="8.4" font-weight="400" fill="#333" text-anchor="start" >(AUC: 0.925)</text>
<text x="483.3" y="325" font-size="16" font-weight="700" fill="#111" text-anchor="start" >d</text>
<text x="597.6" y="314.0" font-size="11.2" font-weight="400" fill="#333" text-anchor="middle" >Total (n = 150)</text>
<path d="M521.20,476.80 H523.80" stroke="#545454" stroke-width="1.2"/>
<path d="M524.50,476.6 V479.0" stroke="#545454" stroke-width="1.2"/>
<text x="520.00" y="479.90" font-size="8.6" font-weight="400" fill="#3a3a3a" text-anchor="end" >0.0</text>
<text x="524.50" y="487.1" font-size="8.6" font-weight="400" fill="#3a3a3a" text-anchor="middle" >0.0</text>
<path d="M521.20,447.56 H523.80" stroke="#545454" stroke-width="1.2"/>
<path d="M553.56,476.6 V479.0" stroke="#545454" stroke-width="1.2"/>
<text x="520.00" y="450.66" font-size="8.6" font-weight="400" fill="#3a3a3a" text-anchor="end" >0.2</text>
<text x="553.56" y="487.1" font-size="8.6" font-weight="400" fill="#3a3a3a" text-anchor="middle" >0.2</text>
<path d="M521.20,418.32 H523.80" stroke="#545454" stroke-width="1.2"/>
<path d="M582.62,476.6 V479.0" stroke="#545454" stroke-width="1.2"/>
<text x="520.00" y="421.42" font-size="8.6" font-weight="400" fill="#3a3a3a" text-anchor="end" >0.4</text>
<text x="582.62" y="487.1" font-size="8.6" font-weight="400" fill="#3a3a3a" text-anchor="middle" >0.4</text>
<path d="M521.20,389.08 H523.80" stroke="#545454" stroke-width="1.2"/>
<path d="M611.68,476.6 V479.0" stroke="#545454" stroke-width="1.2"/>
<text x="520.00" y="392.18" font-size="8.6" font-weight="400" fill="#3a3a3a" text-anchor="end" >0.6</text>
<text x="611.68" y="487.1" font-size="8.6" font-weight="400" fill="#3a3a3a" text-anchor="middle" >0.6</text>
<path d="M521.20,359.84 H523.80" stroke="#545454" stroke-width="1.2"/>
<path d="M640.74,476.6 V479.0" stroke="#545454" stroke-width="1.2"/>
<text x="520.00" y="362.94" font-size="8.6" font-weight="400" fill="#3a3a3a" text-anchor="end" >0.8</text>
<text x="640.74" y="487.1" font-size="8.6" font-weight="400" fill="#3a3a3a" text-anchor="middle" >0.8</text>
<path d="M521.20,330.60 H523.80" stroke="#545454" stroke-width="1.2"/>
<path d="M669.80,476.6 V479.0" stroke="#545454" stroke-width="1.2"/>
<text x="520.00" y="333.70" font-size="8.6" font-weight="400" fill="#3a3a3a" text-anchor="end" >1.0</text>
<text x="669.80" y="487.1" font-size="8.6" font-weight="400" fill="#3a3a3a" text-anchor="middle" >1.0</text>
<text transform="translate(503.00,402.80) rotate(-90)" font-size="12.6" fill="#222" text-anchor="middle">Sensitivity</text>
<text x="599.0" y="500.0" font-size="12.5" font-weight="400" fill="#222" text-anchor="middle" >1-Specificity</text>
<rect x="523.80" y="329.5" width="146.90" height="147.10" fill="none" stroke="#545454" stroke-width="1.15"/>
<path d="M524.50,476.80 C524.59,472.41 524.86,441.27 525.37,432.94 C525.88,424.61 528.80,398.73 529.59,393.47 C530.37,388.20 532.49,383.77 533.22,380.31 C533.94,376.84 536.05,361.96 536.85,358.82 C537.65,355.67 539.47,349.87 541.21,348.88 C542.95,347.88 552.32,348.98 554.29,348.88 C556.25,348.77 558.57,348.28 560.83,347.85 C563.08,347.43 571.72,344.87 576.81,344.64 C581.89,344.40 607.15,345.78 611.68,345.51 C616.21,345.25 619.70,342.62 622.14,342.00 C624.58,341.39 633.30,339.90 636.09,339.37 C638.88,338.85 647.60,337.53 650.04,336.74 C652.48,335.95 658.52,332.09 660.50,331.48 C662.48,330.86 668.87,330.69 669.80,330.60" fill="none" stroke="#f39a45" stroke-width="2.3" stroke-linejoin="round"/>
<path d="M524.50,476.80 C524.50,472.85 524.33,443.47 524.50,437.33 C524.67,431.19 525.89,419.75 526.24,415.40 C526.59,411.04 527.71,397.27 527.99,393.76 C528.26,390.25 528.84,382.12 529.00,380.31 C529.16,378.50 528.95,377.34 529.59,375.63 C530.22,373.92 534.38,364.66 535.40,363.20 C536.41,361.74 538.81,361.45 539.76,361.01 C540.70,360.57 543.68,359.47 544.84,358.82 C546.00,358.16 549.78,355.21 551.38,354.43 C552.98,353.66 559.50,351.52 560.83,351.07 C562.15,350.61 553.71,351.95 564.60,349.90 C575.50,347.85 659.28,332.53 669.80,330.60" fill="none" stroke="#1f58a8" stroke-width="2.7" stroke-linejoin="round"/>
<path d="M524.5,476.8 V437.33 L669.8,330.6" fill="none" stroke="#ec7277" stroke-width="2.8" stroke-linejoin="round"/>
<path d="M524.5,476.8 L669.8,330.6" stroke="#383838" stroke-width="1.25" stroke-linecap="round" stroke-dasharray="0.01,2.85"/>
<path d="M573.20,442.40 H589.00" stroke="#f7931f" stroke-width="3"/>
<text x="592.20" y="445.40" font-size="8.4" font-weight="400" fill="#333" text-anchor="start" >ELISA</text>
<text x="618.20" y="445.40" font-size="8.4" font-weight="400" fill="#333" text-anchor="start" >(AUC: 0.896)</text>
<path d="M573.20,454.50 H589.00" stroke="#ef86a7" stroke-width="3"/>
<text x="592.20" y="457.50" font-size="8.4" font-weight="400" fill="#333" text-anchor="start" >LFIA</text>
<text x="618.20" y="457.50" font-size="8.4" font-weight="400" fill="#333" text-anchor="start" >(AUC: 0.634)</text>
<path d="M573.20,466.60 H589.00" stroke="#4672b9" stroke-width="3"/>
<text x="592.20" y="469.60" font-size="8.4" font-weight="400" fill="#333" text-anchor="start" >SELFI</text>
<text x="618.20" y="469.60" font-size="8.4" font-weight="400" fill="#333" text-anchor="start" >(AUC: 0.899)</text>
<text x="0.3" y="528.3" font-size="16" font-weight="700" fill="#111" text-anchor="start" >e</text>
<path d="M55.1,548.8 V711.8 H194.8" fill="none" stroke="#1e1e1e" stroke-width="1.9"/>
<path d="M48.1,566.4 H55.1" stroke="#1e1e1e" stroke-width="1.9"/>
<text x="45.6" y="571.20" font-size="13.3" font-weight="400" fill="#2a2a2a" text-anchor="end" >0.93</text>
<path d="M48.1,600.3 H55.1" stroke="#1e1e1e" stroke-width="1.9"/>
<text x="45.6" y="605.10" font-size="13.3" font-weight="400" fill="#2a2a2a" text-anchor="end" >0.83</text>
<path d="M48.1,634.2 H55.1" stroke="#1e1e1e" stroke-width="1.9"/>
<text x="45.6" y="639.00" font-size="13.3" font-weight="400" fill="#2a2a2a" text-anchor="end" >0.73</text>
<path d="M48.1,668.1 H55.1" stroke="#1e1e1e" stroke-width="1.9"/>
<text x="45.6" y="672.90" font-size="13.3" font-weight="400" fill="#2a2a2a" text-anchor="end" >0.63</text>
<text x="47.300000000000004" y="716.5999999999999" font-size="13.5" font-weight="400" fill="#2a2a2a" text-anchor="end" >0</text>
<rect x="53.1" y="704.2" width="4" height="2.9" fill="#fff"/>
<path d="M50.1,704.50 C51.9,702.50 53.7,702.70 55.1,703.90 S58.5,705.20 60.1,703.10" fill="none" stroke="#1e1e1e" stroke-width="1.5"/>
<path d="M50.1,707.90 C51.9,705.90 53.7,706.10 55.1,707.30 S58.5,708.60 60.1,706.50" fill="none" stroke="#1e1e1e" stroke-width="1.5"/>
<path d="M82.4,711.8 V718.8" stroke="#1e1e1e" stroke-width="1.9"/>
<text x="82.4" y="732.7" font-size="13.4" font-weight="400" fill="#2a2a2a" text-anchor="middle" >ELISA</text>
<path d="M124.4,711.8 V718.8" stroke="#1e1e1e" stroke-width="1.9"/>
<text x="124.4" y="732.7" font-size="13.4" font-weight="400" fill="#2a2a2a" text-anchor="middle" >LFIA</text>
<path d="M166.6,711.8 V718.8" stroke="#1e1e1e" stroke-width="1.9"/>
<text x="166.6" y="732.7" font-size="13.4" font-weight="400" fill="#2a2a2a" text-anchor="middle" >SELFI</text>
<text transform="translate(11.8,629.3) rotate(-90)" font-size="15.8" fill="#222" text-anchor="middle">AUC value</text>
<path d="M84.6,532.2 H169.8" stroke="#1a1a1a" stroke-width="1.8"/>
<text x="127.20" y="527.5" font-size="9.4" font-weight="700" fill="#1a1a1a" text-anchor="middle" ><tspan font-style="italic">P</tspan> &lt; 0.0001</text>
<path d="M123.1,565.6 H169.4" stroke="#1a1a1a" stroke-width="1.8"/>
<text x="146.25" y="562.1" font-size="9.4" font-weight="700" fill="#1a1a1a" text-anchor="middle" ><tspan font-style="italic">P</tspan> &lt; 0.0001</text>
<text x="239.5" y="528.3" font-size="16" font-weight="700" fill="#111" text-anchor="start" >f</text>
<path d="M291.0,548.8 V711.8 H430.5" fill="none" stroke="#1e1e1e" stroke-width="1.9"/>
<path d="M284.0,566.4 H291.0" stroke="#1e1e1e" stroke-width="1.9"/>
<text x="281.5" y="571.20" font-size="13.3" font-weight="400" fill="#2a2a2a" text-anchor="end" >0.93</text>
<path d="M284.0,600.3 H291.0" stroke="#1e1e1e" stroke-width="1.9"/>
<text x="281.5" y="605.10" font-size="13.3" font-weight="400" fill="#2a2a2a" text-anchor="end" >0.83</text>
<path d="M284.0,634.2 H291.0" stroke="#1e1e1e" stroke-width="1.9"/>
<text x="281.5" y="639.00" font-size="13.3" font-weight="400" fill="#2a2a2a" text-anchor="end" >0.73</text>
<path d="M284.0,668.1 H291.0" stroke="#1e1e1e" stroke-width="1.9"/>
<text x="281.5" y="672.90" font-size="13.3" font-weight="400" fill="#2a2a2a" text-anchor="end" >0.63</text>
<text x="283.2" y="716.5999999999999" font-size="13.5" font-weight="400" fill="#2a2a2a" text-anchor="end" >0</text>
<rect x="289.0" y="704.2" width="4" height="2.9" fill="#fff"/>
<path d="M286.0,704.50 C287.8,702.50 289.6,702.70 291.0,703.90 S294.4,705.20 296.0,703.10" fill="none" stroke="#1e1e1e" stroke-width="1.5"/>
<path d="M286.0,707.90 C287.8,705.90 289.6,706.10 291.0,707.30 S294.4,708.60 296.0,706.50" fill="none" stroke="#1e1e1e" stroke-width="1.5"/>
<path d="M319.0,711.8 V718.8" stroke="#1e1e1e" stroke-width="1.9"/>
<text x="319.0" y="732.7" font-size="13.4" font-weight="400" fill="#2a2a2a" text-anchor="middle" >ELISA</text>
<path d="M361.0,711.8 V718.8" stroke="#1e1e1e" stroke-width="1.9"/>
<text x="361.0" y="732.7" font-size="13.4" font-weight="400" fill="#2a2a2a" text-anchor="middle" >LFIA</text>
<path d="M403.0,711.8 V718.8" stroke="#1e1e1e" stroke-width="1.9"/>
<text x="403.0" y="732.7" font-size="13.4" font-weight="400" fill="#2a2a2a" text-anchor="middle" >SELFI</text>
<text transform="translate(251.0,629.3) rotate(-90)" font-size="15.8" fill="#222" text-anchor="middle">AUC value</text>
<path d="M315.7,531.6 H400.6" stroke="#1a1a1a" stroke-width="1.8"/>
<text x="358.15" y="526.6" font-size="9.4" font-weight="700" fill="#1a1a1a" text-anchor="middle" >ns</text>
<path d="M356.0,553.8 H402.6" stroke="#1a1a1a" stroke-width="1.8"/>
<text x="379.30" y="550.0" font-size="9.4" font-weight="700" fill="#1a1a1a" text-anchor="middle" ><tspan font-style="italic">P</tspan> &lt; 0.0001</text>
<text x="483.3" y="528.3" font-size="16" font-weight="700" fill="#111" text-anchor="start" >g</text>
<path d="M529.5,548.8 V711.8 H668.9" fill="none" stroke="#1e1e1e" stroke-width="1.9"/>
<path d="M522.5,566.4 H529.5" stroke="#1e1e1e" stroke-width="1.9"/>
<text x="520.0" y="571.20" font-size="13.3" font-weight="400" fill="#2a2a2a" text-anchor="end" >0.93</text>
<path d="M522.5,600.3 H529.5" stroke="#1e1e1e" stroke-width="1.9"/>
<text x="520.0" y="605.10" font-size="13.3" font-weight="400" fill="#2a2a2a" text-anchor="end" >0.83</text>
<path d="M522.5,634.2 H529.5" stroke="#1e1e1e" stroke-width="1.9"/>
<text x="520.0" y="639.00" font-size="13.3" font-weight="400" fill="#2a2a2a" text-anchor="end" >0.73</text>
<path d="M522.5,668.1 H529.5" stroke="#1e1e1e" stroke-width="1.9"/>
<text x="520.0" y="672.90" font-size="13.3" font-weight="400" fill="#2a2a2a" text-anchor="end" >0.63</text>
<text x="521.7" y="716.5999999999999" font-size="13.5" font-weight="400" fill="#2a2a2a" text-anchor="end" >0</text>
<rect x="527.5" y="704.2" width="4" height="2.9" fill="#fff"/>
<path d="M524.5,704.50 C526.3,702.50 528.1,702.70 529.5,703.90 S532.9,705.20 534.5,703.10" fill="none" stroke="#1e1e1e" stroke-width="1.5"/>
<path d="M524.5,707.90 C526.3,705.90 528.1,706.10 529.5,707.30 S532.9,708.60 534.5,706.50" fill="none" stroke="#1e1e1e" stroke-width="1.5"/>
<path d="M557.4,711.8 V718.8" stroke="#1e1e1e" stroke-width="1.9"/>
<text x="557.4" y="732.7" font-size="13.4" font-weight="400" fill="#2a2a2a" text-anchor="middle" >ELISA</text>
<path d="M599.4,711.8 V718.8" stroke="#1e1e1e" stroke-width="1.9"/>
<text x="599.4" y="732.7" font-size="13.4" font-weight="400" fill="#2a2a2a" text-anchor="middle" >LFIA</text>
<path d="M641.4,711.8 V718.8" stroke="#1e1e1e" stroke-width="1.9"/>
<text x="641.4" y="732.7" font-size="13.4" font-weight="400" fill="#2a2a2a" text-anchor="middle" >SELFI</text>
<text transform="translate(486.8,629.3) rotate(-90)" font-size="15.8" fill="#222" text-anchor="middle">AUC value</text>
<path d="M557.4,531.9 H642.0" stroke="#1a1a1a" stroke-width="1.8"/>
<text x="599.70" y="528.0" font-size="9.4" font-weight="700" fill="#1a1a1a" text-anchor="middle" ><tspan font-style="italic">P</tspan> = 0.0142</text>
<path d="M596.0,553.8 H642.0" stroke="#1a1a1a" stroke-width="1.8"/>
<text x="619.00" y="550.0" font-size="9.4" font-weight="700" fill="#1a1a1a" text-anchor="middle" ><tspan font-style="italic">P</tspan> &lt; 0.0001</text>
<path d="M80.10,581.80 L78.60,582.20 L78.40,584.30 L79.80,585.20 L79.40,586.80 L71.60,588.30 L69.80,589.20 L70.60,590.20 L73.00,592.00 L72.10,593.50 L69.60,596.30 L71.10,597.50 L76.10,599.50 L79.60,600.50 L85.60,600.50 L89.10,599.50 L94.10,597.50 L95.60,596.30 L93.10,593.50 L92.20,592.00 L94.60,590.20 L95.40,589.20 L93.60,588.30 L85.80,586.80 L85.40,585.20 L86.80,584.30 L86.60,582.20 L85.10,581.80 Z" fill="#fbd7b8" stroke="#f28c36" stroke-width="1.7" stroke-linejoin="round"/>
<path d="M72.60,589.30 H92.60" stroke="#f28c36" stroke-width="0.9" stroke-dasharray="1.2,1.3" opacity="0.9"/>
<path d="M72.10,596.30 H93.10" stroke="#f28c36" stroke-width="0.9" stroke-dasharray="1.2,1.3" opacity="0.9"/>
<path d="M73.5,592.6 H91.7" stroke="#f28c36" stroke-width="1.2" opacity="0.35"/>
<path d="M164.40,579.00 L162.40,579.50 L160.90,581.00 L160.40,583.00 L161.10,585.00 L162.40,586.20 L157.90,587.50 L153.20,589.30 L153.90,590.50 L155.60,593.50 L157.20,596.00 L159.90,597.60 L172.90,597.60 L175.60,596.00 L177.20,593.50 L178.90,590.50 L179.60,589.30 L174.90,587.50 L170.40,586.20 L171.70,585.00 L172.40,583.00 L171.90,581.00 L170.40,579.50 L168.40,579.00 Z" fill="#b9cfea" stroke="#2060b0" stroke-width="1.7" stroke-linejoin="round"/>
<path d="M162.80,586.60 H170.00" stroke="#2060b0" stroke-width="0.9" stroke-dasharray="1.2,1.3" opacity="0.9"/>
<path d="M156.90,593.30 H175.90" stroke="#2060b0" stroke-width="0.9" stroke-dasharray="1.2,1.3" opacity="0.9"/>
<rect x="165.2" y="574.8" width="2.5" height="5.5" fill="#2060b0"/>
<path d="M111.6,693.1 H137.6" stroke="#ea6a72" stroke-width="2.6" stroke-linecap="round"/>
<path d="M124.6,693 V701" stroke="#ea6a72" stroke-width="1.4"/>
<path d="M117.2,697.7 L121,695.9 H128.5 L132.1,697.7 L128.5,699.5 H121 Z" fill="#ea6a72"/>
<circle cx="124.6" cy="702.0" r="1.4" fill="#ea6a72"/>
<path d="M316.10,561.20 L314.10,562.30 L312.70,564.50 L312.50,567.00 L307.70,568.20 L305.20,569.90 L306.70,571.00 L311.20,571.80 L326.20,571.80 L330.70,571.00 L332.20,569.90 L329.70,568.20 L324.90,567.00 L324.70,564.50 L323.30,562.30 L321.30,561.20 Z" fill="#f8c79b" stroke="#f28c36" stroke-width="1.8" stroke-linejoin="round"/>
<path d="M308.70,569.90 H328.70" stroke="#f28c36" stroke-width="0.9" stroke-dasharray="1.2,1.3" opacity="0.9"/>
<rect x="317.4" y="557.8" width="2.6" height="3.6" rx="0.8" fill="#f28c36"/>
<path d="M400.90,560.60 L399.50,562.30 L398.30,564.50 L396.70,566.50 L392.90,568.00 L389.60,570.10 L391.30,571.50 L396.10,572.40 L410.10,572.40 L414.90,571.50 L416.60,570.10 L413.30,568.00 L409.50,566.50 L407.90,564.50 L406.70,562.30 L405.30,560.60 Z" fill="#9dbbe3" stroke="#2060b0" stroke-width="1.8" stroke-linejoin="round"/>
<path d="M392.60,570.10 H413.60" stroke="#2060b0" stroke-width="0.9" stroke-dasharray="1.2,1.3" opacity="0.9"/>
<rect x="401.4" y="556.9" width="3.4" height="3.8" rx="1.2" fill="#2060b0"/>
<path d="M357.80,639.00 L356.30,640.80 L354.30,641.50 L352.80,643.00 L349.80,644.30 L346.90,645.80 L349.80,647.30 L351.30,648.50 L352.80,650.50 L354.80,652.50 L357.30,654.20 L359.80,655.70 L361.80,655.70 L364.30,654.20 L366.80,652.50 L368.80,650.50 L370.30,648.50 L371.80,647.30 L374.70,645.80 L371.80,644.30 L368.80,643.00 L367.30,641.50 L365.30,640.80 L363.80,639.00 Z" fill="#ea6a72" stroke="#ea6a72" stroke-width="0.8" stroke-linejoin="round"/>
<path d="M360.8,642 V653" stroke="#f7d0d3" stroke-width="1.2" stroke-dasharray="1.5,1"/>
<path d="M554.10,571.40 L552.50,573.00 L549.30,575.80 L546.50,577.00 L544.30,579.00 L545.50,580.50 L547.20,582.50 L549.50,583.20 L565.50,583.20 L567.80,582.50 L569.50,580.50 L570.70,579.00 L568.50,577.00 L565.70,575.80 L562.50,573.00 L560.90,571.40 Z" fill="#f8c99f" stroke="#f28c36" stroke-width="1.7" stroke-linejoin="round"/>
<path d="M551.00,576.50 H564.00" stroke="#f28c36" stroke-width="0.9" stroke-dasharray="1.2,1.3" opacity="0.9"/>
<path d="M547.50,580.50 H567.50" stroke="#f28c36" stroke-width="0.9" stroke-dasharray="1.2,1.3" opacity="0.9"/>
<path d="M639.20,569.40 L638.80,570.50 L638.20,572.50 L633.20,574.00 L630.40,576.00 L627.70,578.10 L630.40,580.00 L632.80,581.80 L636.20,583.20 L645.80,583.20 L649.20,581.80 L651.60,580.00 L654.30,578.10 L651.60,576.00 L648.80,574.00 L643.80,572.50 L643.20,570.50 L642.80,569.40 Z" fill="#a9c3e6" stroke="#2060b0" stroke-width="1.7" stroke-linejoin="round"/>
<path d="M634.00,575.50 H648.00" stroke="#2060b0" stroke-width="0.9" stroke-dasharray="1.2,1.3" opacity="0.9"/>
<path d="M632.00,580.00 H650.00" stroke="#2060b0" stroke-width="0.9" stroke-dasharray="1.2,1.3" opacity="0.9"/>
<path d="M595.30,660.80 L592.80,661.80 L590.80,663.20 L585.60,664.00 L585.60,667.50 L590.30,668.30 L592.80,670.50 L594.80,672.50 L597.30,673.70 L601.30,673.70 L603.80,672.50 L605.80,670.50 L608.30,668.30 L613.00,667.50 L613.00,664.00 L607.80,663.20 L605.80,661.80 L603.30,660.80 Z" fill="#ea6a72" stroke="#ea6a72" stroke-width="0.8" stroke-linejoin="round"/>
<path d="M593,665.2 H605.6" stroke="#f7d0d3" stroke-width="0.9" stroke-dasharray="1.3,1"/>
</svg>
</body></html>
